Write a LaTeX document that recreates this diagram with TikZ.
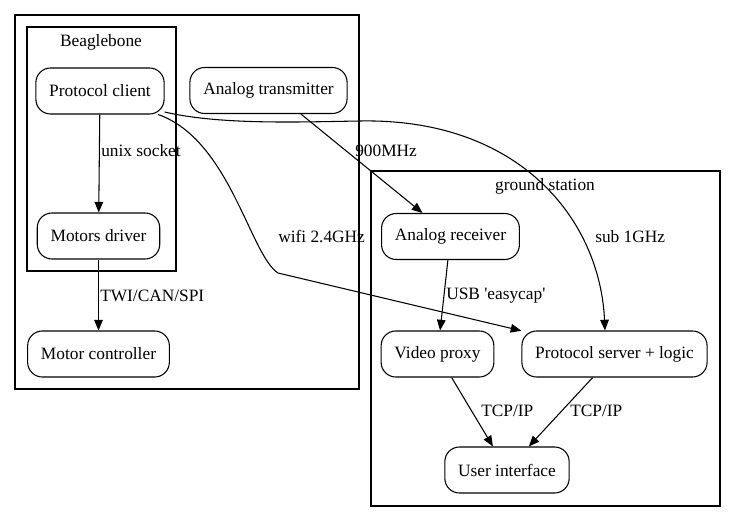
\documentclass[tikz,border=0pt]{standalone}
\usepackage{fontspec}
\setmainfont{Liberation Serif}
\usetikzlibrary{arrows.meta,positioning}
\tikzset{
  >={Triangle[length=8pt,width=6.5pt]}
}

\begin{document}
\begin{tikzpicture}[
        x=0.75pt,y=-0.75pt,
        every node/.style={font=\fontsize{13}{15}\selectfont},
        box/.style={rectangle,draw,rounded corners=11pt,inner xsep=10pt,minimum height=34.5pt,line width=0.8pt},
        cluster/.style={draw,line width=0.8pt},
        lbl/.style={inner sep=0pt,anchor=west},
        edge/.style={->,line width=0.8pt}
      ]
      \useasboundingbox (0,0) rectangle (736,523);
      % clusters
      \draw[cluster] (15,15) rectangle (359,389);
      \draw[cluster] (27,27) rectangle (176,271);
      \draw[cluster] (371,171) rectangle (720,506);
      \node (BB) at (101,42) {Beaglebone};
      \node (GS) at (545,186) {ground station};
      % nodes
      \node (PCLIENT) at (100,91) [box] {Protocol client};
      \node (ATRANS) at (268.5,90.5) [box] {Analog transmitter};
      \node (MDRIVER) at (98.5,236) [box] {Motors driver};
      \node (MCTRL) at (98.5,354) [box] {Motor controller};
      \node (ARECV) at (450.5,236.5) [box] {Analog receiver};
      \node (VPROXY) at (437.5,354) [box] {Video proxy};
      \node (PSERVER) at (614.5,354) [box] {Protocol server + logic};
      \node (UI) at (507,470) [box] {User interface};
      % edges
      \draw[edge] (PCLIENT) -- (MDRIVER);
      \draw[edge] (MDRIVER) -- (MCTRL);
      \draw[edge] (ATRANS.-36) -- (ARECV.140);
      \draw[edge] (ARECV) -- (VPROXY);
      \draw[edge] (VPROXY) -- (UI);
      \draw[edge] (PSERVER) -- (UI);
      \draw[edge] (PCLIENT.-22) .. controls (230,140) and (250,255) .. (278,273) -- (PSERVER.166);
      \draw[edge] (PCLIENT.-18) .. controls (220,125) and (300,122) .. (360,121)
        .. controls (520,118) and (600,220) .. (PSERVER.112);
      % edge labels
      \node (UNIX) at (101,151) [lbl] {unix socket};
      \node (TWI) at (100,296) [lbl] {TWI/CAN/SPI};
      \node (MHZ) at (355,151) [lbl] {900MHz};
      \node (WIFI) at (278,237) [lbl] {wifi 2.4GHz};
      \node (SUB) at (595,237) [lbl] {sub 1GHz};
      \node (USB) at (446,296) [lbl] {USB \textquotesingle easycap\textquotesingle};
      \node (TCPA) at (481,411) [lbl] {TCP/IP};
      \node (TCPB) at (570,411) [lbl] {TCP/IP};
    \end{tikzpicture}
\end{document}
